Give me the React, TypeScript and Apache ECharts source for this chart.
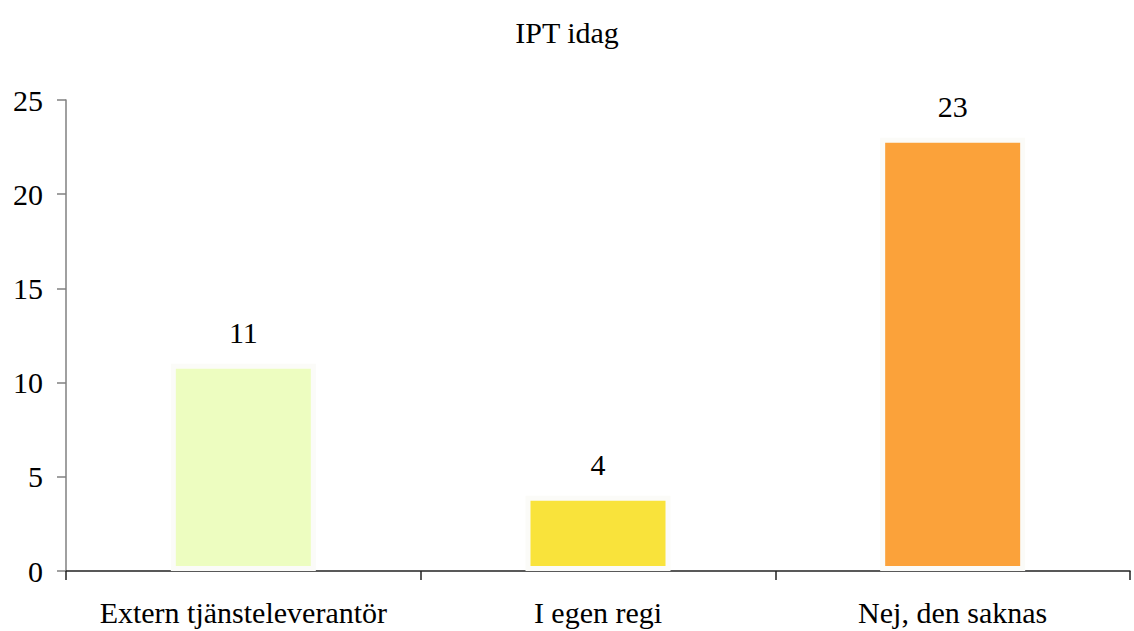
import React, { useEffect, useRef } from "react";
import * as echarts from "echarts";

const title = "IPT idag";
const categories = ["Extern tjänsteleverantör", "I egen regi", "Nej, den saknas"];
const values = [11, 4, 23];
const barColors = ["#edfdc0", "#f9e33b", "#fba23a"];
const yTicks = { min: 0, max: 25, interval: 5 };

export default function App() {
  const ref = useRef<HTMLDivElement>(null);
  useEffect(() => {
    if (!ref.current) return;
    const chart = echarts.init(ref.current, null, { renderer: "svg" });
    const font = "'Liberation Serif', 'Times New Roman', serif";
    chart.setOption({
      animation: false,
      backgroundColor: "#ffffff",
      title: {
        text: title,
        left: "center",
        top: 12,
        textStyle: { fontFamily: font, fontSize: 30, fontWeight: "normal", color: "#000" },
      },
      grid: { left: 66, right: 4, top: 100, bottom: 60 },
      xAxis: {
        type: "category",
        data: categories,
        axisLine: { lineStyle: { color: "#222", width: 1.5 } },
        axisTick: { show: true, length: 9, lineStyle: { color: "#222", width: 1.5 } },
        axisLabel: { fontFamily: font, fontSize: 30, color: "#000", margin: 26, interval: 0, hideOverlap: false },
      },
      yAxis: {
        type: "value",
        min: yTicks.min,
        max: yTicks.max,
        interval: yTicks.interval,
        splitLine: { show: false },
        axisLine: { show: true, lineStyle: { color: "#808080", width: 1.5 } },
        axisTick: { show: true, length: 9, lineStyle: { color: "#808080", width: 1.5 } },
        axisLabel: { fontFamily: font, fontSize: 30, color: "#000", margin: 23 },
      },
      series: [
        {
          type: "bar",
          barWidth: 145,
          data: values.map((v, i) => ({
            value: v,
            itemStyle: { color: barColors[i], borderColor: "#fbfbf8", borderWidth: 5 },
          })),
          label: {
            show: true,
            position: "top",
            distance: 16,
            fontFamily: font,
            fontSize: 30,
            color: "#000",
          },
        },
      ],
    });
    return () => chart.dispose();
  }, []);
  return <div ref={ref} style={{ width: 1134, height: 631, position: "absolute", left: 0, top: 0 }} />;
}
